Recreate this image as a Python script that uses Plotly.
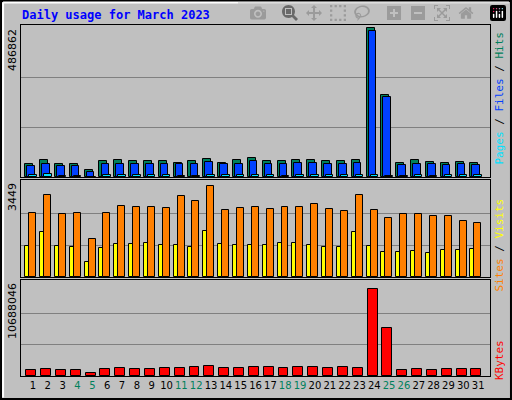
import plotly.graph_objects as go

days = list(range(1, 32))
hits = [44000, 54700, 44000, 41500, 22000, 51000, 54700, 51000, 51000, 51000, 47000, 51000, 59000, 47000, 54700, 61700,
        51000, 51000, 54700, 57000, 51000, 51000, 54700, 486000, 267500, 47000, 54700, 50400, 47000, 50400, 47000]
files = [37000, 44000, 37000, 36000, 15000, 42000, 44000, 42000, 42000, 42000, 41000, 42000, 50000, 41000, 44000, 52000,
         42000, 42000, 45000, 47000, 42000, 42000, 45000, 477000, 263000, 38000, 42000, 41000, 38000, 41000, 38000]
pages = [6000, 10000, 2000, 2000, 1500, 5000, 5000, 5000, 5000, 5000, 2000, 2000, 5000, 5000, 5000, 5000,
         5000, 2000, 5000, 5000, 5000, 5000, 5000, 5000, 2000, 2000, 5000, 2000, 5000, 5000, 5000]
visits = [2304, 2984, 2268, 2304, 1374, 2304, 2590, 2555, 2555, 2519, 2948, 2770, 3306, 2412, 2519, 2555,
          2480, 2555, 2555, 2630, 2480, 2376, 2960, 2447, 2125, 2268, 2268, 2197, 2197, 2018, 1947]
sites = [1124, 1625, 1124, 1088, 551, 1052, 1195, 1195, 1231, 1160, 1160, 1088, 1660, 1195, 1160, 1160,
         1160, 1231, 1231, 1160, 1088, 1088, 1636, 1124, 909, 909, 945, 873, 980, 980, 1016]
kbytes = [691000, 799000, 691000, 691000, 367000, 799000, 907000, 799000, 799000, 907000, 907000, 1015000, 1123000,
          907000, 907000, 1015000, 1015000, 907000, 1015000, 1015000, 907000, 1015000, 907000, 9870000, 5440000,
          691000, 799000, 691000, 799000, 799000, 799000]
weekend = [4, 5, 11, 12, 18, 19, 25, 26]
max_top, max_mid, max_bot = 486862, 3449, 10688046

mono = "DejaVu Sans Mono"
line = dict(color="black", width=1)

def bar(y, color, off, w, ax):
    return go.Bar(x=days, y=y, offset=off, width=w, marker=dict(color=color, line=line),
                  xaxis="x" + ax, yaxis="y" + ax, showlegend=False)

fig = go.Figure([
    bar(hits, "#00805c", -0.52, 0.54, ""),
    bar(files, "#0040ff", -0.38, 0.51, ""),
    bar(pages, "#00e0ff", -0.25, 0.50, ""),
    bar(sites, "#ffff00", -0.52, 0.27, "2"),
    bar(visits, "#ff8000", -0.25, 0.47, "2"),
    bar(kbytes, "#ff0000", -0.45, 0.67, "3"),
])

xr = [0.193, 31.8]
xdom = [21 / 512, 490 / 512]
ticktext = [f"<span style='color:#00805c'>{d}</span>" if d in weekend else str(d) for d in days]
ax_common = dict(range=xr, domain=xdom, showgrid=False, zeroline=False, fixedrange=True,
                 showline=True, linecolor="black", mirror=True)

def yax(mx, dom, anchor):
    return dict(domain=dom, range=[0, mx * 1.02], tickvals=[mx / 3, 2 * mx / 3], showticklabels=False,
                showgrid=True, gridcolor="#808080", gridwidth=1, zeroline=False, anchor=anchor,
                showline=True, linecolor="black", mirror=True)

fig.update_layout(
    width=512, height=400, margin=dict(l=0, r=0, t=0, b=0),
    paper_bgcolor="#c0c0c0", plot_bgcolor="#c0c0c0", barmode="overlay", bargap=0,
    xaxis=dict(**ax_common, anchor="y", showticklabels=False),
    xaxis2=dict(**ax_common, anchor="y2", showticklabels=False),
    xaxis3=dict(**ax_common, anchor="y3", tickvals=days, ticktext=ticktext, ticks="", tickangle=0,
                tickfont=dict(family="DejaVu Sans", size=10, color="black")),
    yaxis=yax(max_top, [1 - 177 / 400, 1 - 25 / 400], "x"),
    yaxis2=yax(max_mid, [1 - 277 / 400, 1 - 180 / 400], "x2"),
    yaxis3=yax(max_bot, [1 - 376 / 400, 1 - 280 / 400], "x3"),
    font=dict(family=mono),
)

# outer frame
fig.add_shape(type="rect", xref="paper", yref="paper", x0=0.002, y0=0.0025, x1=0.998, y1=0.9975,
              line=dict(color="black", width=2))
fig.add_shape(type="line", xref="paper", yref="paper", x0=0.006, y0=0.006, x1=0.006, y1=0.994,
              line=dict(color="white", width=2))
fig.add_shape(type="line", xref="paper", yref="paper", x0=0.006, y0=0.994, x1=0.994, y1=0.994,
              line=dict(color="white", width=2))

fig.add_annotation(text="<b>Daily usage for March 2023</b>", xref="paper", yref="paper", x=20 / 512, y=1 - 15 / 400,
                   xanchor="left", yanchor="middle", showarrow=False, font=dict(family=mono, size=12, color="#0000ff"))

for label, top in [(str(max_top), 27), (str(max_mid), 181), (str(max_bot), 281)]:
    fig.add_annotation(text=label, xref="paper", yref="paper", x=12 / 512, y=1 - top / 400, textangle=-90,
                       xanchor="center", yanchor="top", showarrow=False,
                       font=dict(family="DejaVu Sans", size=11, color="black"))

right = [
    ("<span style='color:#00e0ff'>Pages</span> / <span style='color:#0040ff'>Files</span> / "
     "<span style='color:#00805c'>Hits</span>", 30),
    ("<span style='color:#ff8000'>Sites</span> / <span style='color:#ffff00'>Visits</span>", 197),
    ("<span style='color:#ff0000'>KBytes</span>", 338),
]
for text, top in right:
    fig.add_annotation(text=text, xref="paper", yref="paper", x=499 / 512, y=1 - top / 400, textangle=-90,
                       xanchor="center", yanchor="top", showarrow=False,
                       font=dict(family=mono, size=11, color="black"))

fig.write_html("out.html", post_script="document.body.style.margin='0';document.body.style.overflow='hidden';")
